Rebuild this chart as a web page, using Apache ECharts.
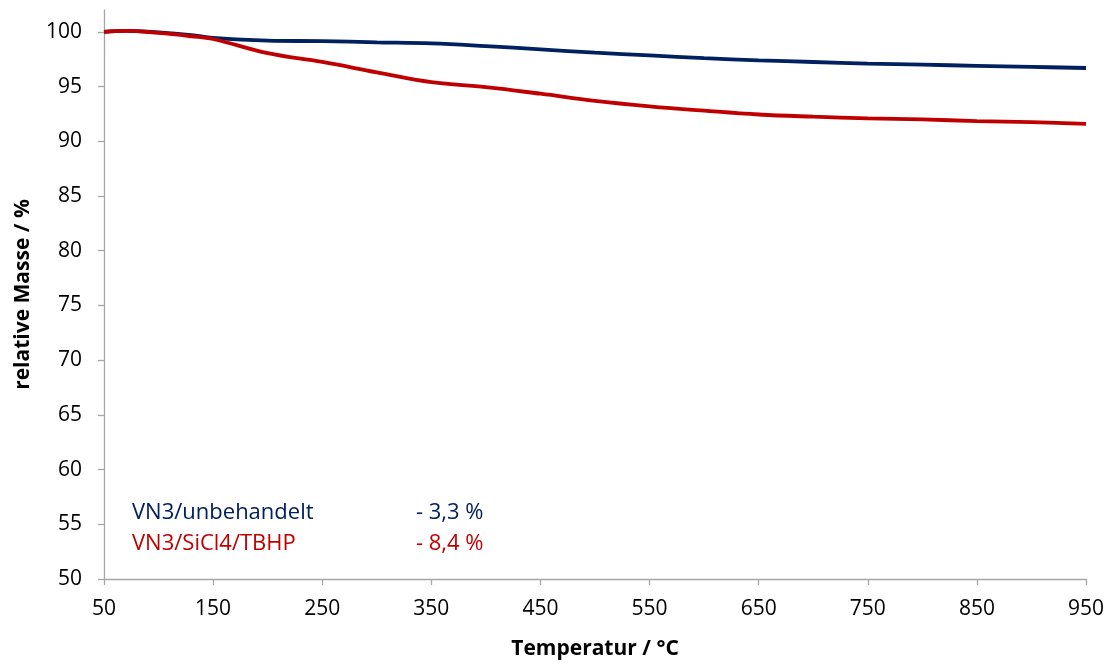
<!DOCTYPE html>
<html>
<head>
<meta charset="utf-8">
<script src="https://cdn.jsdelivr.net/npm/echarts@6/dist/echarts.min.js"></script>
<style>
  html, body { margin: 0; padding: 0; background: #fff; }
  #chart { width: 1114px; height: 664px; }
</style>
</head>
<body>
<div id="chart"></div>
<script>
// Thermogravimetric curves: relative mass vs temperature
const temperatures = [50, 70, 100, 130, 150, 200, 250, 300, 350, 400, 450, 500, 550, 600, 650, 700, 750, 800, 850, 900, 950];
const massUntreated = [100.0, 100.1, 99.95, 99.7, 99.45, 99.2, 99.15, 99.05, 98.95, 98.7, 98.4, 98.1, 97.85, 97.6, 97.4, 97.25, 97.1, 97.0, 96.9, 96.8, 96.7];
const massSiCl4 = [100.0, 100.1, 99.9, 99.6, 99.35, 98.05, 97.25, 96.3, 95.4, 94.95, 94.35, 93.7, 93.2, 92.8, 92.45, 92.25, 92.1, 92.0, 91.85, 91.75, 91.6];
const xTicks = [50, 150, 250, 350, 450, 550, 650, 750, 850, 950];
const yTicks = [50, 55, 60, 65, 70, 75, 80, 85, 90, 95, 100];
const seriesNames = ['VN3/unbehandelt', 'VN3/SiCl4/TBHP'];
const lossLabels = ['- 3,3 %', '- 8,4 %'];
const colors = ['#002060', '#c00000'];

const font = '"Open Sans", sans-serif';
const axisGray = '#a6a6a6';

const chart = echarts.init(document.getElementById('chart'));
chart.setOption({
  animation: false,
  textStyle: { fontFamily: font },
  grid: { left: 104, right: 28, top: 10, bottom: 85, outerBoundsMode: 'none', containLabel: false },
  xAxis: {
    type: 'value',
    min: 50, max: 950, interval: 100,
    name: 'Temperatur / °C',
    nameLocation: 'middle', nameGap: 60,
    nameTextStyle: { fontFamily: font, fontSize: 21, fontWeight: 'bold', color: '#000' },
    axisLine: { lineStyle: { color: axisGray, width: 1.3 } },
    axisTick: { show: true, length: 6, lineStyle: { color: axisGray, width: 1.3 }, customValues: xTicks },
    axisLabel: { fontSize: 21, color: '#000', margin: 20, customValues: xTicks },
    splitLine: { show: false }
  },
  yAxis: {
    type: 'value',
    min: 50, max: 102,
    name: 'relative Masse / %',
    nameLocation: 'middle', nameGap: 70,
    nameTextStyle: { fontFamily: font, fontSize: 21, fontWeight: 'bold', color: '#000' },
    axisLine: { show: true, lineStyle: { color: axisGray, width: 1.3 } },
    axisTick: { show: true, length: 6, lineStyle: { color: axisGray, width: 1.3 }, customValues: yTicks },
    axisLabel: { fontSize: 21, color: '#000', margin: 22, customValues: yTicks },
    splitLine: { show: false }
  },
  series: [
    {
      name: seriesNames[0], type: 'line', smooth: 0.4, symbol: 'none',
      lineStyle: { color: colors[0], width: 3.8 },
      data: temperatures.map((t, i) => [t, massUntreated[i]])
    },
    {
      name: seriesNames[1], type: 'line', smooth: 0.4, symbol: 'none',
      lineStyle: { color: colors[1], width: 3.8 },
      data: temperatures.map((t, i) => [t, massSiCl4[i]])
    }
  ],
  graphic: [
    { type: 'text', left: 132, top: 502, style: { text: seriesNames[0], fill: colors[0], font: '22px ' + font } },
    { type: 'text', left: 416, top: 502, style: { text: lossLabels[0], fill: colors[0], font: '22px ' + font } },
    { type: 'text', left: 132, top: 533, style: { text: seriesNames[1], fill: colors[1], font: '22px ' + font } },
    { type: 'text', left: 416, top: 533, style: { text: lossLabels[1], fill: colors[1], font: '22px ' + font } }
  ]
});
</script>
</body>
</html>
